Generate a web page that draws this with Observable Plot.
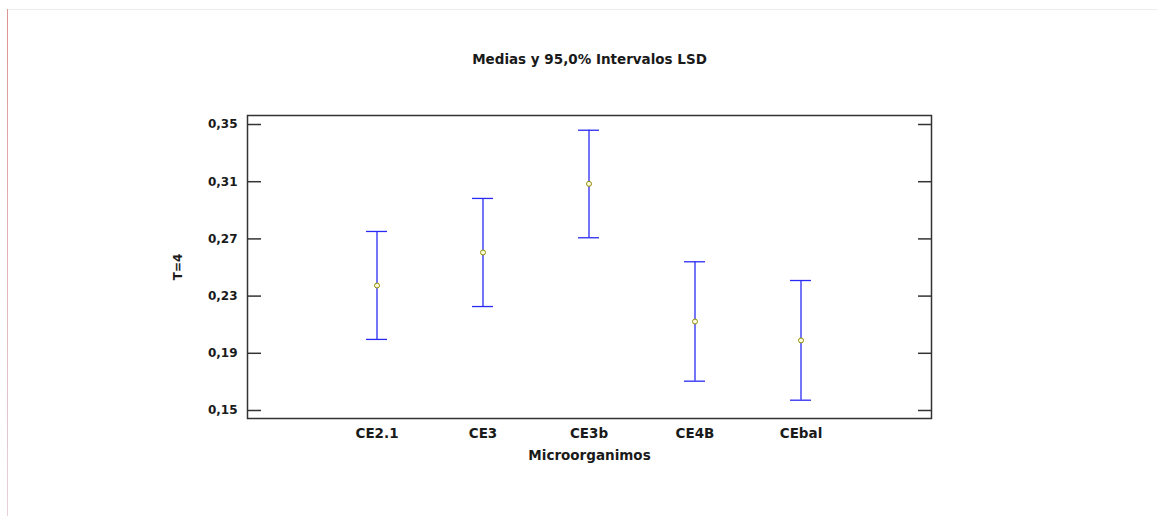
<!DOCTYPE html>
<html>
<head>
<meta charset="utf-8">
<script src="https://cdn.jsdelivr.net/npm/d3@7"></script>
<script src="https://cdn.jsdelivr.net/npm/@observablehq/plot@0.6"></script>
<style>
  html, body { margin: 0; padding: 0; background: #fff; }
  #wrap { position: relative; width: 1157px; height: 516px; overflow: hidden; font-family: "DejaVu Sans", sans-serif; }
  #edge { position: absolute; left: 8px; top: 9px; right: 0; bottom: 0; border-top: 1px solid #ececec; }
  #edge::before { content: ""; position: absolute; left: -1px; top: -1px; bottom: 0; width: 1px; background: linear-gradient(#dc9494, #e8d0dc); }
  #title { position: absolute; left: 0; width: 1179px; top: 51px; line-height: 16px; text-align: center; font-weight: bold; font-size: 13.5px; color: #1a1a1a; }
  #chart { position: absolute; left: 0; top: 0; }
</style>
</head>
<body>
<div id="wrap">
  <div id="edge"></div>
  <div id="title">Medias y 95,0% Intervalos LSD</div>
  <div id="chart"></div>
</div>
<script>
const categories = ["CE2.1", "CE3", "CE3b", "CE4B", "CEbal"];
const means = [0.2374, 0.2605, 0.3085, 0.2122, 0.1990];
const lower = [0.1997, 0.2227, 0.2708, 0.1705, 0.1572];
const upper = [0.2752, 0.2983, 0.3460, 0.2540, 0.2409];
const yTicks = [0.15, 0.19, 0.23, 0.27, 0.31, 0.35];

const data = categories.map((c, i) => ({cat: c, mean: means[i], lo: lower[i], hi: upper[i]}));
const fmt = d => d.toFixed(2).replace(".", ",");
const blue = "#2a2af5";

const chart = Plot.plot({
  width: 1157,
  height: 516,
  marginLeft: 247,
  marginRight: 226,
  marginTop: 115,
  marginBottom: 98,
  style: {fontFamily: "'DejaVu Sans', sans-serif", fontSize: "12px", fontWeight: "bold", color: "#1a1a1a", background: "transparent"},
  x: {type: "band", domain: categories, paddingInner: 0.8, paddingOuter: 1.1},
  y: {domain: [0.1444, 0.3563]},
  marks: [
    Plot.frame({stroke: "#333", strokeWidth: 1.5}),
    Plot.axisY({anchor: "left", ticks: yTicks, tickSize: 0, tickPadding: 10, tickFormat: fmt, fontSize: 12,
      label: "T=4", labelAnchor: "center", labelArrow: "none", labelOffset: 74}),
    Plot.axisY({anchor: "left", ticks: yTicks, tickSize: 14, dx: 14, fill: "none", label: null, stroke: "#333", strokeWidth: 1.5}),
    Plot.axisY({anchor: "right", ticks: yTicks, tickSize: 14, dx: -14, fill: "none", label: null, stroke: "#333", strokeWidth: 1.5}),
    Plot.axisX({anchor: "bottom", tickSize: 0, tickPadding: 10, fontSize: 13.5,
      label: "Microorganimos", labelAnchor: "center", labelArrow: "none", labelOffset: 41}),
    Plot.ruleX(data, {x: "cat", y1: "lo", y2: "hi", stroke: blue, strokeWidth: 1.3}),
    Plot.tickY(data, {x: "cat", y: "lo", stroke: blue, strokeWidth: 1.3}),
    Plot.tickY(data, {x: "cat", y: "hi", stroke: blue, strokeWidth: 1.3}),
    Plot.dot(data, {x: "cat", y: "mean", r: 2.5, stroke: "#8f8f00", fill: "#fffbe0", strokeWidth: 1})
  ]
});
document.getElementById("chart").appendChild(chart);
</script>
</body>
</html>
